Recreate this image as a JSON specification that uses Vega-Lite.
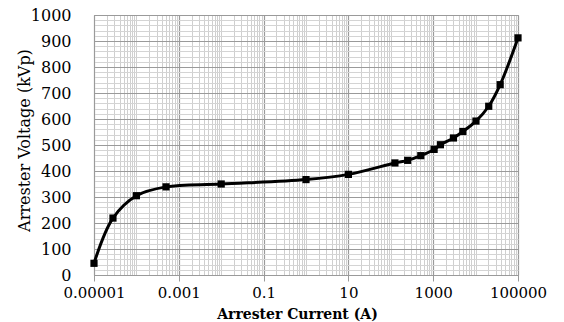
{
  "$schema": "https://vega.github.io/schema/vega-lite/v6.json",
  "width": 424,
  "height": 260,
  "autosize": "none",
  "padding": {"left": 94, "top": 15, "right": 46, "bottom": 47},
  "background": "white",
  "config": {
    "view": {"stroke": "#a0a0a0", "strokeWidth": 1},
    "font": "DejaVu Serif"
  },
  "data": {
    "values": [
      {"current": 0.00001, "voltage": 45},
      {"current": 0.000028, "voltage": 219},
      {"current": 0.0001, "voltage": 305},
      {"current": 0.0005, "voltage": 339},
      {"current": 0.01, "voltage": 350},
      {"current": 1, "voltage": 367},
      {"current": 10, "voltage": 387},
      {"current": 125, "voltage": 431},
      {"current": 250, "voltage": 441},
      {"current": 510, "voltage": 459},
      {"current": 1050, "voltage": 483},
      {"current": 1480, "voltage": 501},
      {"current": 3000, "voltage": 527},
      {"current": 5000, "voltage": 552},
      {"current": 10200, "voltage": 592},
      {"current": 20400, "voltage": 649},
      {"current": 38000, "voltage": 732},
      {"current": 100000, "voltage": 912}
    ]
  },
  "resolve": {"axis": {"x": "independent", "y": "independent"}},
  "layer": [
    {
      "description": "minor grid lines",
      "mark": {"type": "point", "opacity": 0},
      "encoding": {
        "x": {
          "field": "current", "type": "quantitative",
          "scale": {"type": "log", "domain": [0.00001, 100000], "nice": false},
          "axis": {
            "orient": "bottom", "grid": true, "gridColor": "#cfcfcf", "gridWidth": 1,
            "labels": false, "ticks": false, "domain": false, "title": null,
            "values": [
              2e-5, 3e-5, 4e-5, 5e-5, 6e-5, 7e-5, 8e-5, 9e-5,
              1e-4, 2e-4, 3e-4, 4e-4, 5e-4, 6e-4, 7e-4, 8e-4, 9e-4,
              2e-3, 3e-3, 4e-3, 5e-3, 6e-3, 7e-3, 8e-3, 9e-3,
              1e-2, 2e-2, 3e-2, 4e-2, 5e-2, 6e-2, 7e-2, 8e-2, 9e-2,
              0.2, 0.3, 0.4, 0.5, 0.6, 0.7, 0.8, 0.9,
              1, 2, 3, 4, 5, 6, 7, 8, 9,
              20, 30, 40, 50, 60, 70, 80, 90,
              100, 200, 300, 400, 500, 600, 700, 800, 900,
              2000, 3000, 4000, 5000, 6000, 7000, 8000, 9000,
              10000, 20000, 30000, 40000, 50000, 60000, 70000, 80000, 90000
            ]
          }
        },
        "y": {
          "field": "voltage", "type": "quantitative",
          "scale": {"domain": [0, 1000], "nice": false},
          "axis": {
            "orient": "left", "grid": true, "gridColor": "#d4d4d4", "gridWidth": 1,
            "labels": false, "ticks": false, "domain": false, "title": null,
            "values": [
              20, 40, 60, 80, 120, 140, 160, 180, 220, 240, 260, 280,
              320, 340, 360, 380, 420, 440, 460, 480, 520, 540, 560, 580,
              620, 640, 660, 680, 720, 740, 760, 780, 820, 840, 860, 880,
              920, 940, 960, 980
            ]
          }
        }
      }
    },
    {
      "description": "major grid, axes and the curve",
      "mark": {"type": "line", "color": "black", "strokeWidth": 3, "interpolate": "catmull-rom"},
      "encoding": {
        "x": {
          "field": "current", "type": "quantitative",
          "scale": {"type": "log", "domain": [0.00001, 100000], "nice": false},
          "axis": {
            "orient": "bottom", "grid": true, "gridColor": "#9a9a9a", "gridWidth": 1.2,
            "values": [0.00001, 0.001, 0.1, 10, 1000, 100000],
            "format": ".5~f",
            "ticks": true, "tickColor": "#9a9a9a", "tickSize": 6,
            "domain": true, "domainColor": "#9a9a9a",
            "labelFont": "DejaVu Serif", "labelFontSize": 15, "labelColor": "black",
            "labelPadding": 4, "labelFlush": false,
            "title": "Arrester Current (A)",
            "titleFont": "DejaVu Serif", "titleFontSize": 14, "titleFontWeight": "bold",
            "titleColor": "black", "titleX": 203, "titleY": 43, "titleBaseline": "alphabetic"
          }
        },
        "y": {
          "field": "voltage", "type": "quantitative",
          "scale": {"domain": [0, 1000], "nice": false},
          "axis": {
            "orient": "left", "grid": true, "gridColor": "#9a9a9a", "gridWidth": 1.2,
            "values": [0, 100, 200, 300, 400, 500, 600, 700, 800, 900, 1000],
            "format": "d",
            "ticks": false, "domain": true, "domainColor": "#9a9a9a",
            "labelFont": "DejaVu Serif", "labelFontSize": 16, "labelColor": "black",
            "labelPadding": 23, "labelFlush": false,
            "title": "Arrester Voltage  (kVp)",
            "titleFont": "DejaVu Serif", "titleFontSize": 16, "titleFontWeight": "normal",
            "titleColor": "black", "titleX": -70, "titleY": 125, "titleAngle": -90,
            "titleBaseline": "middle", "titleAlign": "center"
          }
        }
      }
    },
    {
      "description": "measured points",
      "mark": {"type": "square", "color": "black", "filled": true, "opacity": 1, "size": 52},
      "encoding": {
        "x": {
          "field": "current", "type": "quantitative",
          "scale": {"type": "log", "domain": [0.00001, 100000], "nice": false},
          "axis": null
        },
        "y": {
          "field": "voltage", "type": "quantitative",
          "scale": {"domain": [0, 1000], "nice": false},
          "axis": null
        }
      }
    }
  ]
}
